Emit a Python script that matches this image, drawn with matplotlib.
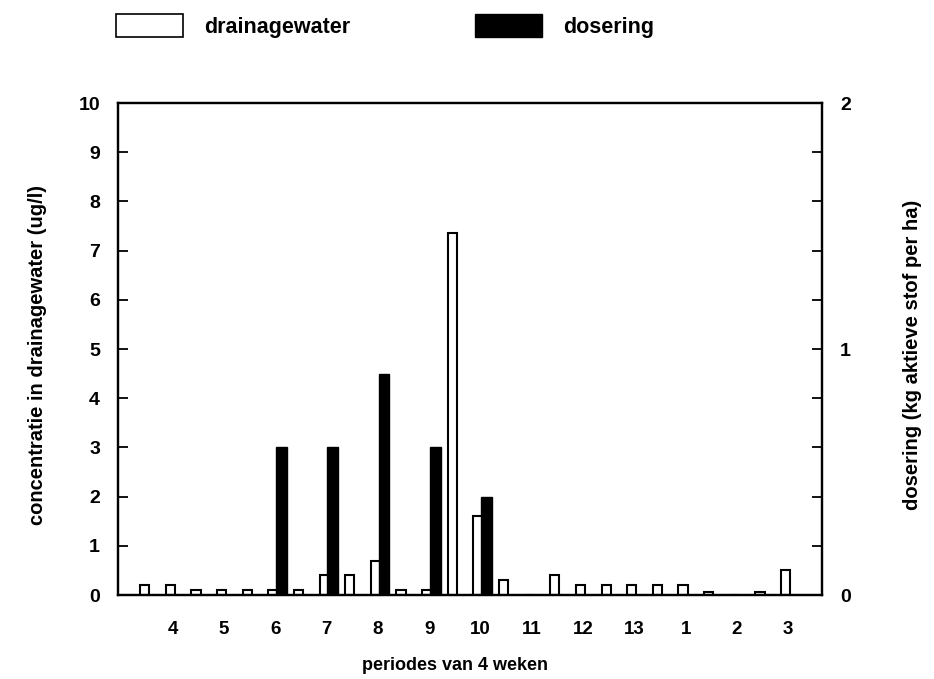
import numpy as np
import matplotlib
matplotlib.use('Agg')
import matplotlib.pyplot as plt
from matplotlib.patches import Patch
from matplotlib.ticker import MultipleLocator

plt.rcParams['font.family'] = ['Liberation Sans', 'DejaVu Sans']

periods = ['4', '5', '6', '7', '8', '9', '10', '11', '12', '13', '1', '2', '3']
# concentratie in drainagewater (ug/l), two samples per period
drain_first = [0.2, 0.1, 0.1, 0.1, 0.4, 0.1, 7.35, 0.3, 0.4, 0.2, 0.2, 0.07, 0.07]
drain_second = [0.2, 0.1, 0.1, 0.4, 0.7, 0.1, 1.6, 0.0, 0.2, 0.2, 0.2, 0.0, 0.5]
# dosering (kg aktieve stof per ha)
dosering = [0, 0, 0.6, 0.6, 0.9, 0.6, 0.4, 0, 0, 0, 0, 0, 0]

x = np.arange(len(periods))

fig = plt.figure(figsize=(9.34, 6.79), dpi=100)
ax = fig.add_axes([118/934, 1 - 595/679, 704/934, 492/679])
ax2 = ax.twinx()

ax.bar(x - 0.55, drain_first, width=0.18, color='white', edgecolor='black', linewidth=1.5)
ax.bar(x - 0.05, drain_second, width=0.18, color='white', edgecolor='black', linewidth=1.5)
dos = np.array(dosering, dtype=float)
mask = dos > 0
ax2.bar(x[mask] + 0.12, dos[mask], width=0.21, color='black', edgecolor='black')

ax.set_xlim(-1.07, 12.66)
ax.set_ylim(0, 10)
ax2.set_ylim(0, 2)

ax.set_xticks(x)
ax.set_xticklabels(periods, fontsize=13.5, fontweight='bold')
ax.tick_params(axis='x', length=0, pad=19)
ax.yaxis.set_major_locator(MultipleLocator(1))
ax.tick_params(axis='y', direction='in', length=7.5, width=1.3, labelsize=14, pad=13)
for lab in ax.get_yticklabels():
    lab.set_fontweight('bold')

ax2.yaxis.set_major_locator(MultipleLocator(1))
ax2.yaxis.set_minor_locator(MultipleLocator(0.2))
ax2.tick_params(axis='y', which='both', direction='in', length=7.5, width=1.3, labelsize=14, pad=13)
for lab in ax2.get_yticklabels():
    lab.set_fontweight('bold')

for a in (ax, ax2):
    for s in a.spines.values():
        s.set_linewidth(1.6)

fig.text(38/934, 1 - 355/679, 'concentratie in drainagewater (ug/l)', rotation=90,
         ha='center', va='center', fontsize=14.5, fontweight='bold')
fig.text(912/934, 1 - 355/679, 'dosering (kg aktieve stof per ha)', rotation=90,
         ha='center', va='center', fontsize=14.5, fontweight='bold')
fig.text(455/934, 1 - 666/679, 'periodes van 4 weken', ha='center', va='center',
         fontsize=13, fontweight='bold')

leg1 = fig.legend(handles=[Patch(facecolor='white', edgecolor='black', linewidth=1.2)],
                  labels=['drainagewater'], loc='upper left',
                  bbox_to_anchor=(116/934, 1 - 14/679), frameon=False,
                  handlelength=3.1, handleheight=1.25, handletextpad=1.0,
                  borderpad=0, borderaxespad=0, prop={'size': 15.5, 'weight': 'bold'})
leg2 = fig.legend(handles=[Patch(facecolor='black', edgecolor='black')],
                  labels=['dosering'], loc='upper left',
                  bbox_to_anchor=(475/934, 1 - 14/679), frameon=False,
                  handlelength=3.1, handleheight=1.25, handletextpad=1.0,
                  borderpad=0, borderaxespad=0, prop={'size': 15.5, 'weight': 'bold'})

fig.savefig('out.png', dpi=100)
